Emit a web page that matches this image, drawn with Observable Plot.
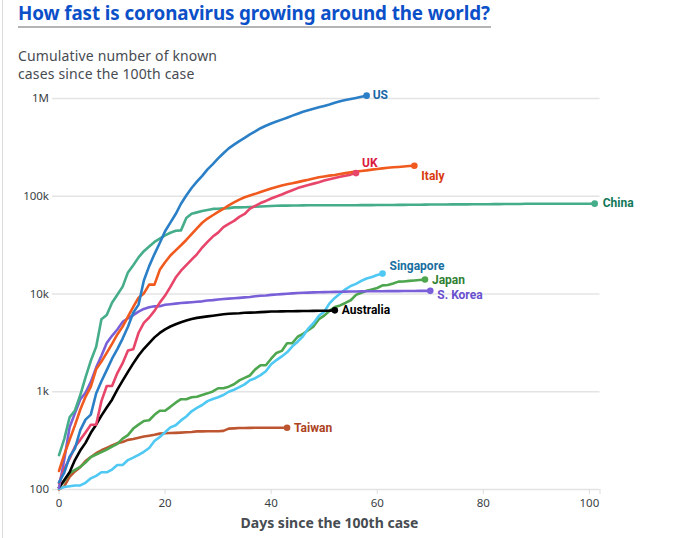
<!DOCTYPE html>
<html>
<head>
<meta charset="utf-8">
<script src="https://cdn.jsdelivr.net/npm/d3@7"></script>
<script src="https://cdn.jsdelivr.net/npm/@observablehq/plot@0.6"></script>
<style>
  html, body { margin: 0; padding: 0; background: #fff; }
  #page { position: relative; width: 686px; height: 538px; overflow: hidden; font-family: "Noto Sans", sans-serif; }
  #edge { position: absolute; left: 2px; top: 0; width: 1px; height: 538px; background: #dcdcdc; }
  #title { position: absolute; left: 18px; top: 1px; font-size: 18.8px; line-height: 24px; font-weight: 700; color: #0b50c8; white-space: nowrap; letter-spacing: -0.1px; }
  #rule { position: absolute; left: 18px; top: 26px; width: 473px; height: 1.5px; background: #b4b4b4; }
  #subtitle { position: absolute; left: 18px; top: 46.5px; font-size: 14px; line-height: 18px; letter-spacing: 0.15px; color: #474c52; }
  #chart { position: absolute; left: 0; top: 85px; }
  #chart g[aria-label="x-axis label"] text { font-weight: 700; font-size: 14px; fill: #474c52; }
</style>
</head>
<body>
<div id="page">
  <div id="edge"></div>
  <div id="title">How fast is coronavirus growing around the world?</div>
  <div id="rule"></div>
  <div id="subtitle">Cumulative number of known<br>cases since the 100th case</div>
  <div id="chart"></div>
</div>
<script>
// ---- Data: cumulative cases by day since the 100th case (day 0 = first value) ----
const countries = ["Taiwan", "Japan", "Singapore", "Australia", "S. Korea", "China", "UK", "Italy", "US"];

const taiwan = [100,108,135,153,169,195,215,235,252,267,283,298,306,322,
  329,339,348,355,363,373,376,379,380,382,385,388,393,393,395,395,395,398,420,422,
  425,426,427,428,429,429,429,429,429,429];

const japan = [105,122,147,159,170,189,214,228,241,
  256,274,293,331,360,420,461,502,511,581,639,639,701,773,839,839,878,889,924,963,
  1007,1086,1086,1128,1193,1307,1387,1468,1693,1866,1866,
  2178,2495,2617,3139,3139,3654,3906,4257,4667,5530,6005,6748,7370,7645,8100,8626,9787,10296,10797,11135,
  11512,12240,12368,12829,13385,13441,13614,13736,13895,14088];

const singapore = [102,
  106,108,110,110,117,130,138,150,150,160,178,178,200,212,226,243,266,313,345,385,
  432,455,509,558,631,683,732,802,844,879,926,
  1000,1049,1114,1189,1309,1375,1481,1623,1910,2108,2299,2532,2918,3252,3699,4427,5050,5992,6588,8014,
  9125,10141,11178,12075,12693,13624,14423,14951,15641,16169];

const australia = [105,125,150,200,250,300,380,460,570,690,830,1050,1300,1600,1950,2350,2750,3150,3600,4000,
  4350,4650,4900,5150,5350,5550,5700,5800,5900,6000,6100,6200,6280,6320,6360,6420,6450,6470,6520,6570,
  6610,6620,6640,6650,6660,6680,6700,6710,6720,6740,6750,6760,6800];

const korea = [104,204,433,602,833,977,1261,1766,2337,3150,
  3736,4335,5186,5621,6088,6593,7041,7314,7478,7513,7755,7869,7979,8086,8162,8236,8320,8413,8565,8652,
  8799,8897,8961,9037,9137,9241,9332,9478,9583,9661,9786,
  9887,9976,10062,10156,10237,10284,10331,10384,10423,10450,10480,10512,10537,10564,10591,10613,10635,10653,10661,10674,
  10683,10694,10702,10708,10718,10728,10738,10752,10761,10765];

const china = [225,330,548,643,920,1406,2075,2877,5509,6087,8141,9802,
  11891,16630,19716,23707,27440,30587,34110,36814,39829,42354,44386,44759,59895,66358,68413,70513,72434,74211,
  74619,75077,75550,77001,77022,77241,77754,78166,78600,78928,79356,
  79932,80136,80261,80386,80537,80690,80770,80823,80860,80887,80921,80932,80945,80977,81003,81033,81058,81102,81156,81250,
  81305,81435,81498,81591,81661,81782,81897,81999,82122,82198,82279,
  82361,82432,82511,82543,82602,82665,82718,82809,82883,82941,83014,83134,83213,83306,83356,83403,83760,83787,83805,83817,
  83853,83868,83884,83899,83909,83912,83918,83940,83944,83956];

const uk = [116,164,207,274,322,384,459,459,802,1144,1145,1551,1960,2642,2716,4014,5067,5745,6726,8164,
  9640,11812,14745,17312,19780,22453,25481,
  29865,34173,38689,42477,48436,52279,55949,61474,65872,74605,79874,85206,89570,94845,99483,104145,109769,115314,121172,125856,
  130172,134638,139246,144640,149569,154037,158348,162350,166441,172481];

const italy = [155,229,322,453,655,888,1128,
  1694,2036,2502,3089,3858,4636,5883,7375,9172,10149,12462,12462,17660,21157,24747,27980,31506,35713,41035,47021,
  53578,59138,63927,69176,74386,80589,86498,92472,97689,101739,105792,
  110574,115242,119827,124632,128948,132547,135586,139422,143626,147577,152271,156363,159516,162488,165155,168941,172434,175925,178972,181228,
  183957,187327,189973,192994,195351,197675,199414,201505,203591,205463];

const us = [118,149,217,262,402,518,583,959,1281,1663,2179,2727,3499,4632,6421,7783,13747,19273,25600,33276,
  43847,53740,65778,83836,101657,121478,140886,161807,188172,213372,243762,275586,308853,337072,366667,396223,429052,461437,496535,526396,
  555313,580619,607670,636350,667592,699706,732197,759086,784326,811865,840351,869170,905358,938154,965785,988197,1012582,1039909,1069424];

const yTicks = [100, 1000, 10000, 100000, 1000000];
const yTickLabels = ["100", "1k", "10k", "100k", "1M"];
const xTicks = [0, 20, 40, 60, 80, 100];
const xMax = 102;

// ---- Styles (colours and label placement) ----
const lineColors = {
  "Taiwan": "#bd5630", "Japan": "#4ea64f", "Singapore": "#4fc8f3", "Australia": "#000000",
  "S. Korea": "#7a60d8", "China": "#46ad8a", "UK": "#e8456b", "Italy": "#f15a1e", "US": "#2a7fc7"
};
const labelColors = {
  "Taiwan": "#ad421d", "Japan": "#2f7f33", "Singapore": "#176f9f", "Australia": "#000000",
  "S. Korea": "#6a4fd0", "China": "#127758", "UK": "#d9183f", "Italy": "#d93a10", "US": "#1a67aa"
};
const labelOffsets = {
  "Taiwan": [7, 0], "Japan": [7, 1], "Singapore": [7, -7], "Australia": [7, 0],
  "S. Korea": [7, 4.6], "China": [8, -1], "UK": [6, -10], "Italy": [7, 10], "US": [6, 0]
};

const valuesOf = {
  "Taiwan": taiwan, "Japan": japan, "Singapore": singapore, "Australia": australia,
  "S. Korea": korea, "China": china, "UK": uk, "Italy": italy, "US": us
};

const rows = countries.flatMap(c => valuesOf[c].map((v, i) => ({country: c, day: i, cases: v})));
const ends = countries.map(c => {
  const v = valuesOf[c];
  return {country: c, day: v.length - 1, cases: v[v.length - 1]};
});
const labelMap = new Map(yTicks.map((t, i) => [t, yTickLabels[i]]));

const chart = Plot.plot({
  width: 686,
  height: 453,
  marginTop: 13,
  marginBottom: 49,
  marginLeft: 58.5,
  marginRight: 86.5,
  x: {domain: [0, xMax]},
  y: {type: "log", domain: [100, 1000000]},
  color: {domain: countries, range: countries.map(c => lineColors[c])},
  style: {fontFamily: "'Noto Sans', sans-serif", fontSize: "11.5px", color: "#3a3f45", background: "transparent", overflow: "visible"},
  marks: [
    Plot.ruleY(yTicks, {stroke: "#e4e4e4", strokeWidth: 1.5, insetLeft: -6.5}),
    Plot.axisY(yTicks, {tickSize: 0, tickPadding: 10, tickFormat: d => labelMap.get(d), label: null, fill: "#3a3f45"}),
    Plot.axisX([...xTicks, xMax], {
      tickSize: 5, tickPadding: 4, stroke: "#dcdcdc", fill: "#3a3f45",
      tickFormat: d => d === xMax ? "" : String(d),
      label: "Days since the 100th case", labelAnchor: "center", labelArrow: "none", labelOffset: 38
    }),
    Plot.line(rows, {x: "day", y: "cases", z: "country", stroke: "country", strokeWidth: 2.6, strokeLinejoin: "round", strokeLinecap: "round"}),
    Plot.dot(ends, {x: "day", y: "cases", fill: "country", r: 3.3}),
    ...ends.map(e => Plot.text([e], {
      x: "day", y: "cases", text: "country",
      dx: labelOffsets[e.country][0], dy: labelOffsets[e.country][1],
      textAnchor: "start", fill: labelColors[e.country],
      fontFamily: "Roboto, sans-serif", fontWeight: 700, fontSize: 12
    }))
  ]
});
document.getElementById("chart").appendChild(chart);
</script>
</body>
</html>
